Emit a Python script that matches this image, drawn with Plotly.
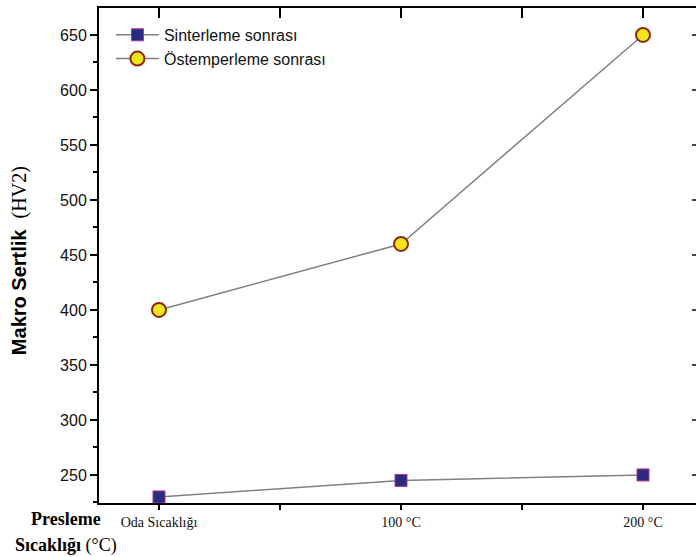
import plotly.graph_objects as go

# Pressing temperature categories and hardness values (HV2)
categories = ["Oda Sıcaklığı", "100 °C", "200 °C"]
sinterleme = [230, 245, 250]
ostemperleme = [400, 460, 650]
series_names = ["Sinterleme sonrası", "Östemperleme sonrası"]

xpos = list(range(len(categories)))

SANS = "Liberation Sans, Arial, sans-serif"
SERIF = "Liberation Serif, Times New Roman, serif"

fig = go.Figure()

fig.add_trace(go.Scatter(
    x=xpos, y=sinterleme, name=series_names[0], mode="lines+markers",
    line=dict(color="#808080", width=1.5),
    marker=dict(symbol="square", size=12, color="#2b2b7e",
                line=dict(color="#b0309a", width=1)),
))
fig.add_trace(go.Scatter(
    x=xpos, y=ostemperleme, name=series_names[1], mode="lines+markers",
    line=dict(color="#808080", width=1.5),
    marker=dict(symbol="circle", size=14, color="#f2e51f",
                line=dict(color="#8a2a0a", width=2)),
))
# carrier for the top / right frame axes
fig.add_trace(go.Scatter(x=[], y=[], xaxis="x2", yaxis="y2",
                         showlegend=False, hoverinfo="skip"))

xrange = [-0.248, 2.219]
yrange = [224.5, 674.5]

fig.update_layout(
    width=696, height=557,
    margin=dict(l=99, r=0, t=8, b=54),
    paper_bgcolor="white", plot_bgcolor="white",
    showlegend=True,
    legend=dict(x=0.02, y=0.98, xanchor="left", yanchor="top",
                bgcolor="rgba(0,0,0,0)", tracegroupgap=0,
                font=dict(family=SANS, size=16, color="#111"),
                itemwidth=43),
    xaxis=dict(
        range=xrange, tickmode="array", tickvals=xpos, ticktext=categories,
        showline=True, linecolor="black", linewidth=2,
        ticks="outside", ticklen=5, tickwidth=1.5, tickcolor="black",
        minor=dict(dtick=0.5, tick0=0, ticks="outside", ticklen=5,
                   tickwidth=1.5, tickcolor="black"),
        tickfont=dict(family=SERIF, size=14, color="#111"),
        showgrid=False, zeroline=False,
    ),
    xaxis2=dict(
        range=xrange, overlaying="x", side="top", anchor="y",
        tickmode="linear", tick0=0, dtick=0.5,
        showline=True, linecolor="black", linewidth=2,
        ticks="inside", ticklen=10, tickwidth=1.5, tickcolor="black",
        showticklabels=False, showgrid=False, zeroline=False,
    ),
    yaxis=dict(
        range=yrange, tickmode="linear", tick0=250, dtick=50,
        showline=True, linecolor="black", linewidth=2,
        ticks="outside", ticklen=7, tickwidth=1.5, tickcolor="black",
        minor=dict(dtick=25, tick0=250, ticks="outside", ticklen=4,
                   tickwidth=1.5, tickcolor="black"),
        tickfont=dict(family=SANS, size=16, color="#111"),
        showgrid=False, zeroline=False,
    ),
    yaxis2=dict(
        range=yrange, overlaying="y", side="right", anchor="x",
        tickmode="linear", tick0=250, dtick=50,
        showline=False, ticks="inside", ticklen=4, tickwidth=1.5,
        tickcolor="#444", showticklabels=False,
        showgrid=False, zeroline=False,
    ),
)

# y-axis title: bold sans part plus serif unit
fig.add_annotation(
    xref="paper", yref="paper", x=-0.132, y=0.489,
    xanchor="center", yanchor="middle", textangle=-90, showarrow=False,
    text=("<b>Makro Sertlik</b>  "
          f"<span style='font-family:{SERIF}'>(HV2)</span>"),
    font=dict(family=SANS, size=20, color="black"),
)

# x-axis title in two lines at the lower left
fig.add_annotation(
    xref="paper", yref="paper", x=-0.055, y=-0.032,
    xanchor="center", yanchor="middle", showarrow=False,
    text="<b>Presleme</b>",
    font=dict(family=SERIF, size=18, color="black"),
)
fig.add_annotation(
    xref="paper", yref="paper", x=-0.055, y=-0.085,
    xanchor="center", yanchor="middle", showarrow=False,
    text="<b>Sıcaklığı</b> (°C)",
    font=dict(family=SERIF, size=18, color="black"),
)

fig.write_html("out.html")
